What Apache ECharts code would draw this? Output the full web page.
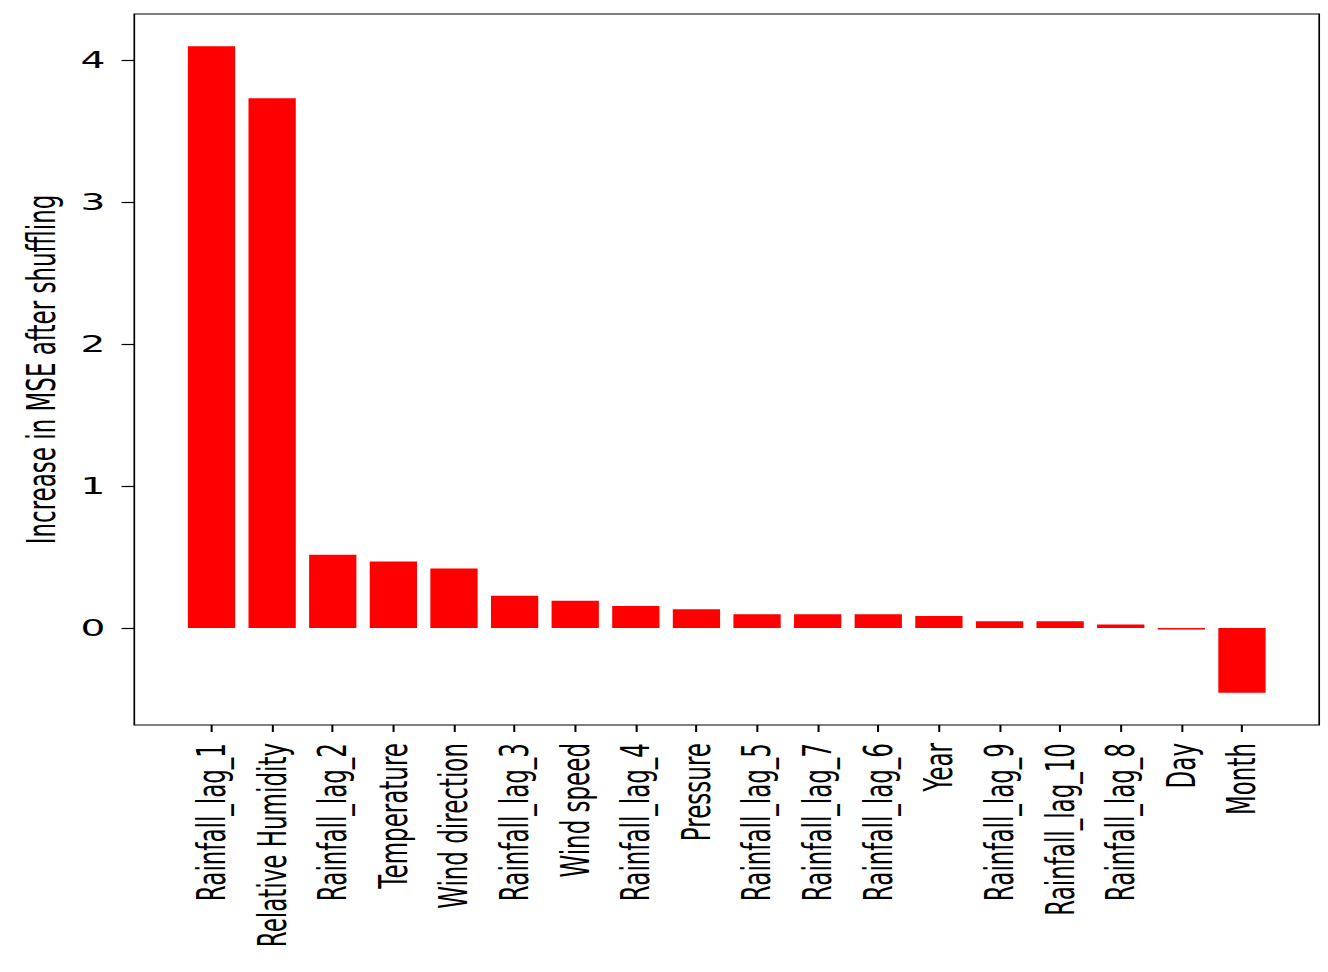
<!DOCTYPE html>
<html>
<head>
<meta charset="utf-8">
<script src="https://cdn.jsdelivr.net/npm/echarts@6/dist/echarts.min.js"></script>
<style>
html,body{margin:0;padding:0;background:#fff;}
#wrap{width:1328px;height:972px;overflow:hidden;position:relative;}
#chart{width:781px;height:972px;transform:scaleX(1.7);transform-origin:0 0;}
</style>
</head>
<body>
<div id="wrap"><div id="chart"></div></div>
<script>
const categories = ["Rainfall_lag_1","Relative Humidity","Rainfall_lag_2","Temperature","Wind direction","Rainfall_lag_3","Wind speed","Rainfall_lag_4","Pressure","Rainfall_lag_5","Rainfall_lag_7","Rainfall_lag_6","Year","Rainfall_lag_9","Rainfall_lag_10","Rainfall_lag_8","Day","Month"];
const importance = [4.10, 3.735, 0.517, 0.47, 0.42, 0.228, 0.193, 0.155, 0.132, 0.097, 0.097, 0.097, 0.085, 0.049, 0.049, 0.026, -0.01, -0.455];
const yTicks = [0, 1, 2, 3, 4];
const yMin = -0.683, yMax = 4.328;
const yTitle = "Increase in MSE after shuffling";

const font = "DejaVu Sans";
const chart = echarts.init(document.getElementById('chart'), null, {renderer: 'svg'});
chart.setOption({
  animation: false,
  backgroundColor: '#fff',
  grid: [
    {left: 79, right: 5, top: 14, bottom: 247, show: true, borderColor: '#000', borderWidth: 1, backgroundColor: 'transparent'},
    {left: 106.6, right: 32.6, top: 14, bottom: 247, show: false}
  ],
  xAxis: [
    {type: 'value', gridIndex: 0, show: false, min: 0, max: 1},
    {type: 'category', gridIndex: 1, data: categories, boundaryGap: true, position: 'bottom',
     axisLine: {show: false, onZero: false},
     axisTick: {show: true, alignWithLabel: true, inside: false, length: 7, lineStyle: {color: '#000', width: 1.2}},
     axisLabel: {rotate: 90, interval: 0, margin: 18, color: '#000', fontFamily: font, fontSize: 23},
     splitLine: {show: false}}
  ],
  yAxis: [
    {type: 'value', gridIndex: 0, min: yMin, max: yMax,
     name: yTitle, nameLocation: 'middle', nameRotate: 90, nameGap: 43,
     nameTextStyle: {color: '#000', fontFamily: font, fontSize: 23},
     axisLine: {show: false},
     axisTick: {show: true, length: 7.5, customValues: yTicks, lineStyle: {color: '#000', width: 1.2}},
     axisLabel: {show: true, customValues: yTicks, margin: 17, color: '#000', fontFamily: font, fontSize: 23,
                 formatter: v => String(Math.round(v))},
     splitLine: {show: false}},
    {type: 'value', gridIndex: 1, min: yMin, max: yMax, show: false, splitLine: {show: false}}
  ],
  series: [{
    type: 'bar', xAxisIndex: 1, yAxisIndex: 1, data: importance,
    barWidth: '78%', itemStyle: {color: '#ff0000'}
  }]
});
</script>
</body>
</html>
